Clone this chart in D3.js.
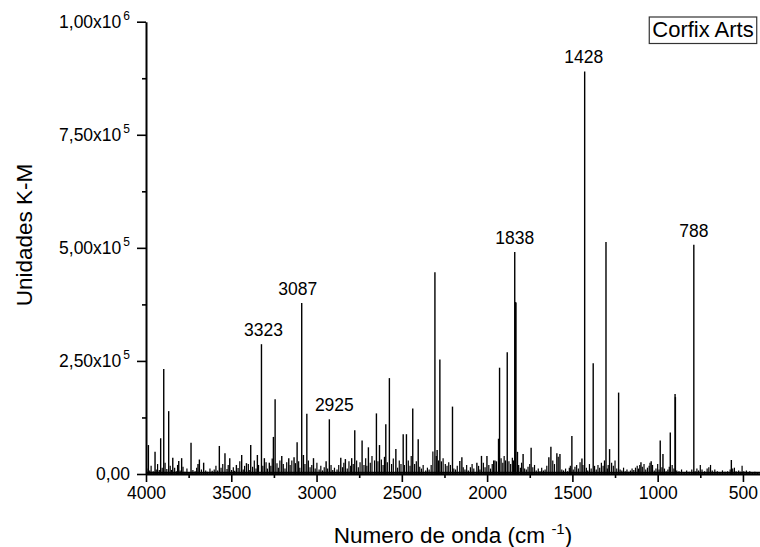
<!DOCTYPE html>
<html><head><meta charset="utf-8">
<script src="https://cdn.jsdelivr.net/npm/d3@7/dist/d3.min.js"></script>
<style>
body{margin:0;background:#fff}
text{font-family:"Liberation Sans",Arial,sans-serif;fill:#000}
</style>
</head><body>
<svg id="c" width="760" height="547"></svg>
<script>
// ---- data ----
const xTicks = [4000, 3500, 3000, 2500, 2000, 1500, 1000, 500];
const xMinorTicks = [3750, 3250, 2750, 2250, 1750, 1250, 750];
const yTicks = [0, 250000, 500000, 750000, 1000000];
const yMinorTicks = [125000, 375000, 625000, 875000];
const yTickMantissa = ["0,00", "2,50x10", "5,00x10", "7,50x10", "1,00x10"];
const yTickExponent = ["", "5", "5", "5", "6"];
const seriesName = "Corfix Arts";
const xTitle = "Numero de onda (cm";
const yTitle = "Unidades K-M";

// main bands [wavenumber, K-M units]
const peaks = [
 [3986,64000],[3947,49000],[3914,79000],[3896,232000],[3867,139000],[3843,36000],[3808,29000],
 [3791,35000],[3736,69000],[3695,22000],[3687,32000],[3662,25000],[3570,62000],[3537,46000],
 [3509,35000],[3470,20000],[3439,42000],[3411,24000],[3386,64000],[3347,42000],[3323,287000],
 [3306,35000],[3277,25000],[3253,82000],[3243,165000],[3204,40000],[3163,35000],[3132,37000],
 [3114,70000],[3087,378000],[3077,42000],[3057,133000],[3018,35000],[2944,28000],[2925,121000],
 [2858,36000],[2831,33000],[2794,35000],[2776,97000],[2733,74000],[2696,59000],[2649,134000],
 [2631,64000],[2594,110000],[2573,212000],[2535,55000],[2492,88000],[2473,88000],[2436,145000],
 [2404,77000],[2306,446000],[2293,53000],[2277,253000],[2203,149000],[2160,29000],[2148,37000],
 [2060,25000],[2033,40000],[2001,40000],[1954,30000],[1933,78000],[1927,235000],[1882,269000],
 [1838,491000],[1834,380000],[1831,379000],[1822,49000],[1789,44000],[1742,58000],[1638,37000],
 [1626,60000],[1591,46000],[1573,44000],[1503,84000],[1444,34000],[1428,890000],[1378,245000],
 [1303,513000],[1282,55000],[1229,180000],[1098,26000],[1038,28000],[985,74000],[969,44000],
 [926,92000],[898,177000],[896,170000],[788,507000],[568,31000]
];

// small bands / noise floor [wavenumber, K-M units]
const minorPeaks = [
 [3995,12000],[3978,8000],[3970,18000],[3958,6000],[3940,10000],[3932,22000],[3922,9000],[3905,14000],
 [3888,25000],[3878,11000],[3858,18000],[3850,9000],[3832,14000],[3822,6000],[3815,20000],[3800,8000],
 [3783,16000],[3772,5000],[3760,12000],[3748,4000],[3725,9000],[3712,6000],[3703,14000],[3675,10000],
 [3650,8000],[3640,5000],[3625,12000],[3612,7000],[3600,10000],[3590,18000],[3580,8000],[3560,14000],
 [3550,22000],[3525,11000],[3518,20000],[3498,9000],[3488,15000],[3480,7000],[3460,13000],[3450,28000],
 [3430,10000],[3422,18000],[3400,22000],[3395,9000],[3375,16000],[3365,30000],[3355,12000],[3340,20000],
 [3315,18000],[3296,26000],[3288,12000],[3268,18000],[3260,34000],[3232,24000],[3224,14000],[3215,30000],
 [3195,22000],[3185,12000],[3175,26000],[3155,20000],[3145,30000],[3124,24000],[3105,28000],[3098,14000],
 [3068,22000],[3048,30000],[3038,15000],[3028,20000],[3008,12000],[2998,25000],[2985,10000],[2975,18000],
 [2965,8000],[2955,15000],[2935,12000],[2915,20000],[2905,9000],[2895,14000],[2880,10000],[2870,20000],
 [2848,15000],[2840,25000],[2820,12000],[2810,28000],[2800,18000],[2785,22000],[2765,30000],[2755,15000],
 [2745,26000],[2722,20000],[2712,35000],[2705,18000],[2685,25000],[2675,40000],[2660,30000],[2640,28000],
 [2620,32000],[2610,20000],[2602,38000],[2585,26000],[2560,22000],[2550,34000],[2525,14000],[2515,30000],
 [2505,22000],[2485,20000],[2462,30000],[2452,18000],[2445,40000],[2425,22000],[2415,28000],[2395,16000],
 [2385,12000],[2375,20000],[2360,8000],[2350,14000],[2340,10000],[2328,20000],[2318,50000],[2298,40000],
 [2285,30000],[2268,28000],[2258,35000],[2245,22000],[2235,18000],[2225,26000],[2215,20000],[2195,12000],
 [2185,10000],[2175,18000],[2140,15000],[2130,10000],[2120,20000],[2110,8000],[2098,15000],[2088,22000],
 [2078,12000],[2050,18000],[2042,10000],[2022,25000],[2012,15000],[1990,20000],[1980,12000],[1970,22000],
 [1962,30000],[1945,28000],[1918,35000],[1908,25000],[1900,40000],[1892,30000],[1872,28000],[1862,22000],
 [1852,36000],[1845,30000],[1815,20000],[1805,14000],[1798,25000],[1780,12000],[1770,10000],[1760,16000],
 [1750,22000],[1732,15000],[1722,20000],[1712,8000],[1700,12000],[1690,6000],[1680,14000],[1670,8000],
 [1660,10000],[1650,18000],[1615,30000],[1605,22000],[1583,38000],[1562,10000],[1552,8000],[1540,12000],
 [1528,6000],[1518,14000],[1512,18000],[1495,10000],[1485,16000],[1475,20000],[1465,12000],[1455,26000],
 [1438,20000],[1418,14000],[1410,8000],[1400,22000],[1390,12000],[1370,18000],[1360,10000],[1350,20000],
 [1340,14000],[1330,25000],[1320,18000],[1312,30000],[1295,12000],[1290,20000],[1270,25000],[1260,18000],
 [1250,30000],[1240,12000],[1220,10000],[1210,8000],[1200,14000],[1190,6000],[1180,10000],[1170,5000],
 [1160,8000],[1150,12000],[1140,9000],[1130,14000],[1120,18000],[1112,12000],[1105,20000],[1090,16000],
 [1080,22000],[1070,10000],[1060,14000],[1050,18000],[1045,25000],[1030,20000],[1020,8000],[1010,12000],
 [1000,22000],[992,10000],[975,15000],[960,12000],[950,6000],[940,10000],[932,16000],[915,20000],
 [905,12000],[888,8000],[875,6000],[860,10000],[845,4000],[830,8000],[815,5000],[800,10000],[780,6000],
 [770,12000],[760,8000],[750,20000],[740,10000],[725,6000],[710,12000],[700,15000],[690,20000],[680,8000],
 [665,10000],[650,6000],[635,4000],[620,8000],[605,5000],[590,6000],[575,10000],[560,12000],[550,14000],
 [540,6000],[525,8000],[515,5000],[505,18000],[495,6000],[480,8000],[470,4000],[460,6000],[445,3000],
 [430,5000],[415,4000]
];

// labelled bands
const labelBands = [[3323,287000],[3087,378000],[2925,121000],[1838,491000],[1428,890000],[788,507000]];
const labelNames = ["3323","3087","2925","1838","1428","788"];

// ---- drawing ----
const svg = d3.select("#c");
const x = d3.scaleLinear().domain([4000, 400]).range([146, 760]);
const y = d3.scaleLinear().domain([0, 1000000]).range([474, 21.7]);

// legend box (drawn first so text sits over it)
const legendRect = svg.append("rect");

// spectrum sticks
const g = svg.append("g");
g.selectAll("line.minor").data(minorPeaks).enter().append("line")
 .attr("x1", d => x(d[0])).attr("x2", d => x(d[0]))
 .attr("y1", y(0)).attr("y2", d => y(d[1]))
 .attr("stroke", "#000").attr("stroke-width", 1.2);
g.selectAll("line.major").data(peaks).enter().append("line")
 .attr("x1", d => x(d[0])).attr("x2", d => x(d[0]))
 .attr("y1", y(0)).attr("y2", d => y(d[1]))
 .attr("stroke", "#000").attr("stroke-width", 1.4);
g.append("line").attr("x1", x(4000)).attr("x2", x(400))
 .attr("y1", y(3000)).attr("y2", y(3000)).attr("stroke", "#000").attr("stroke-width", 2);

// axes
const fs = "17.5px";
const xAxis = svg.append("g").attr("transform", `translate(0,${y(0)})`)
 .call(d3.axisBottom(x).tickValues(xTicks).tickSize(8).tickSizeOuter(0).tickPadding(5).tickFormat(d3.format("d")));
svg.append("g").attr("transform", `translate(0,${y(0)})`)
 .call(d3.axisBottom(x).tickValues(xMinorTicks).tickSize(4).tickSizeOuter(0).tickFormat(""))
 .select(".domain").remove();
xAxis.selectAll("text").style("font-size", fs).style("font-family", '"Liberation Sans",Arial,sans-serif').attr("fill", "#000");

svg.append("g").attr("transform", `translate(${x(4000)},0)`)
 .call(d3.axisLeft(y).tickValues(yTicks).tickSize(9).tickSizeOuter(0).tickFormat(""));
svg.append("g").attr("transform", `translate(${x(4000)},0)`)
 .call(d3.axisLeft(y).tickValues(yMinorTicks).tickSize(4).tickSizeOuter(0).tickFormat(""))
 .select(".domain").remove();
svg.selectAll(".domain").attr("stroke", "#000").attr("stroke-width", 2);
svg.selectAll(".tick line").attr("stroke", "#000").attr("stroke-width", 1.6);

// y tick labels with superscripts
yTicks.forEach((v, i) => {
  const t = svg.append("text").attr("x", x(4000) - 16).attr("y", y(v))
    .attr("dy", "0.35em").attr("text-anchor", "end").style("font-size", fs);
  t.append("tspan").text(yTickMantissa[i]);
  if (yTickExponent[i]) {
    t.append("tspan").attr("dx", 2).attr("dy", -8).style("font-size", "12px").text(yTickExponent[i]);
  }
});

// axis titles
const xt = svg.append("text").attr("x", 453).attr("y", 543).attr("text-anchor", "middle").style("font-size", "22.5px");
xt.append("tspan").text(xTitle + " ");
xt.append("tspan").attr("dy", -9).style("font-size", "15px").text("-1");
xt.append("tspan").attr("dy", 9).text(")");

svg.append("text").attr("transform", "translate(32,235) rotate(-90)").attr("text-anchor", "middle")
 .style("font-size", "22.5px").text(yTitle);

// peak labels
const labelDx = [2, -4, 5, 0, -1, 0];
labelBands.forEach((d, i) => {
  svg.append("text").attr("x", x(d[0]) + labelDx[i]).attr("y", y(d[1]) - 8)
   .attr("text-anchor", "middle").style("font-size", fs).text(labelNames[i]);
});

// legend
const lt = svg.append("text").attr("x", 703).attr("y", 37).attr("text-anchor", "middle")
 .style("font-size", "22px").text(seriesName);
const bb = lt.node().getBBox();
legendRect.attr("x", bb.x - 3).attr("y", 17).attr("width", bb.width + 6).attr("height", 26.5)
 .attr("fill", "none").attr("stroke", "#333").attr("stroke-width", 1.2);
</script>
</body></html>
